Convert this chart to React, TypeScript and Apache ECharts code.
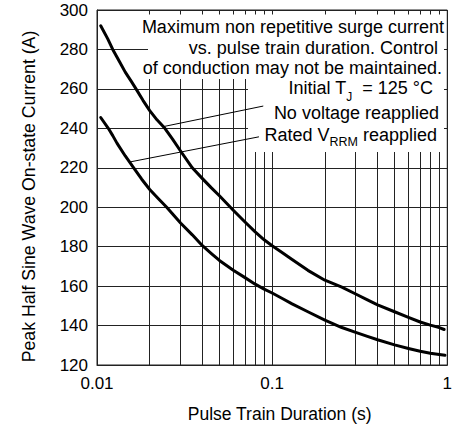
import React, { useEffect, useRef } from "react";
import * as echarts from "echarts";

// ---- data ----
const xTicks = [0.01, 0.1, 1];
const xTickLabels = ["0.01", "0.1", "1"];
const yMin = 120;
const yMax = 300;
const yStep = 20;
const minorGridX = [0.02, 0.03, 0.04, 0.05, 0.06, 0.07, 0.08, 0.09, 0.2, 0.3, 0.4, 0.5, 0.6, 0.7, 0.8, 0.9];

const noVoltageX = [0.0105, 0.0115, 0.0123, 0.0135, 0.0145, 0.0157, 0.0167, 0.0183, 0.02, 0.022, 0.0244, 0.027, 0.03, 0.035, 0.04, 0.045, 0.05, 0.06, 0.07, 0.08, 0.09, 0.1, 0.115, 0.13, 0.16, 0.2, 0.25, 0.3, 0.35, 0.4, 0.5, 0.6, 0.7, 0.8, 0.9, 0.96];
const noVoltageY = [292, 285.5, 280, 273.5, 268.5, 263.8, 260, 254.2, 249, 244.3, 240, 234.5, 228.5, 220, 214.5, 209.8, 205.8, 198.5, 192.5, 187.5, 183.5, 180.5, 176.8, 173.5, 168, 163, 159.5, 156, 153, 150.5, 147, 144.2, 141.8, 140.2, 139, 138];

const ratedX = [0.0105, 0.0116, 0.0123, 0.013, 0.0145, 0.0162, 0.018, 0.02, 0.0225, 0.025, 0.0275, 0.03, 0.035, 0.04, 0.045, 0.05, 0.06, 0.07, 0.08, 0.09, 0.1, 0.115, 0.13, 0.16, 0.2, 0.25, 0.3, 0.35, 0.4, 0.5, 0.6, 0.7, 0.8, 0.9, 0.97];
const ratedY = [245.5, 240, 236.3, 232.5, 226, 220, 214.2, 209, 204.2, 200, 195.8, 192, 186, 180.5, 176.5, 173, 168, 164.3, 161, 158.5, 156.5, 153.6, 151, 147, 142.8, 139, 136.5, 134.5, 132.8, 130.2, 128.4, 127, 126, 125.3, 124.9];

const leaderNoVoltage = [[0.0237, 240.8], [0.089, 251.3]];
const leaderRated = [[0.0155, 223.0], [0.0841, 235.7]];

const noteLines = [
  "Maximum non repetitive surge current",
  "vs. pulse train duration. Control",
  "of conduction may not be maintained.",
  "Initial T{sub|J}  = 125 °C",
  "No voltage reapplied",
  "Rated V{sub2|RRM} reapplied",
];

const xTitle = "Pulse Train Duration (s)";
const yTitle = "Peak Half Sine Wave On-state Current (A)";

const FONT = '"Liberation Sans", Arial, Helvetica, sans-serif';
const notePos = [
  [444, 27],
  [438, 48],
  [442, 67.5],
  [433, 88],
  [439, 113],
  [437, 135],
];

export default function App() {
  const ref = useRef<HTMLDivElement>(null);
  useEffect(() => {
    if (!ref.current) return;
    const chart = echarts.init(ref.current, undefined, { renderer: "svg" });
    const gridColor = "#222";
    const labelFor = (v: number) => {
      let best = 0;
      xTicks.forEach((t, i) => {
        if (Math.abs(Math.log10(t) - Math.log10(v)) < Math.abs(Math.log10(xTicks[best]) - Math.log10(v))) best = i;
      });
      return xTickLabels[best];
    };
    const markLineBase = {
      silent: true,
      symbol: ["none", "none"],
      label: { show: false },
      emphasis: { disabled: true },
    };
    chart.setOption({
      animation: false,
      backgroundColor: "#fff",
      textStyle: { fontFamily: FONT },
      grid: {
        left: 97,
        right: 6,
        top: 10,
        bottom: 64,
        show: true,
        borderColor: gridColor,
        borderWidth: 1,
        backgroundColor: "transparent",
        z: 0,
      },
      xAxis: {
        type: "log",
        logBase: 10,
        min: xTicks[0],
        max: xTicks[xTicks.length - 1],
        z: 0,
        axisLine: { show: true, lineStyle: { color: gridColor, width: 1 } },
        axisTick: { show: false },
        splitLine: { show: true, lineStyle: { color: gridColor, width: 1 } },
        axisLabel: {
          color: "#000",
          fontSize: 17,
          fontFamily: FONT,
          margin: 10,
          formatter: (v: number) => labelFor(v),
        },
        name: xTitle,
        nameLocation: "middle",
        nameGap: 40,
        nameTextStyle: { color: "#000", fontSize: 17.5, fontFamily: FONT, padding: [0, 0, 0, 15] },
      },
      yAxis: {
        type: "value",
        min: yMin,
        max: yMax,
        interval: yStep,
        z: 0,
        axisLine: { show: true, lineStyle: { color: gridColor, width: 1 } },
        axisTick: { show: false },
        splitLine: { show: true, lineStyle: { color: gridColor, width: 1 } },
        axisLabel: { color: "#000", fontSize: 17, fontFamily: FONT, margin: 9 },
      },
      graphic: [
        {
          type: "rect",
          z: 1,
          silent: true,
          shape: { x: 148, y: 14.5, width: 296, height: 64.5 },
          style: { fill: "#fff" },
        },
        {
          type: "rect",
          z: 1,
          silent: true,
          shape: { x: 248, y: 79, width: 196, height: 73 },
          style: { fill: "#fff" },
        },
        {
          type: "text",
          z: 6,
          silent: true,
          x: 29,
          y: 196.5,
          rotation: Math.PI / 2,
          style: {
            text: yTitle,
            align: "center",
            verticalAlign: "middle",
            fontSize: 17.7,
            fontFamily: FONT,
            fill: "#000",
          },
        },
        ...noteLines.map((t, i) => ({
          type: "text",
          z: 6,
          silent: true,
          x: notePos[i][0],
          y: notePos[i][1],
          style: {
            text: t,
            align: "right",
            verticalAlign: "middle",
            fontSize: 18,
            fontFamily: FONT,
            fill: "#000",
            rich: {
              sub: { fontSize: 12, lineHeight: 30, verticalAlign: "bottom", fontFamily: FONT, fill: "#000" },
              sub2: { fontSize: 12.5, lineHeight: 27, verticalAlign: "bottom", fontFamily: FONT, fill: "#000" },
            },
          },
        })),
      ],
      series: [
        {
          type: "line",
          name: "grid",
          z: 0,
          silent: true,
          showSymbol: false,
          data: [[0.5, 200]],
          lineStyle: { opacity: 0 },
          markLine: {
            ...markLineBase,
            z: 0,
            lineStyle: { color: gridColor, width: 1, type: "solid" },
            data: minorGridX.map((v) => ({ xAxis: v })),
          },
        },
        {
          type: "line",
          name: "No voltage reapplied",
          z: 3,
          showSymbol: false,
          smooth: false,
          data: noVoltageX.map((x, i) => [x, noVoltageY[i]]),
          lineStyle: { color: "#000", width: 3, join: "round", cap: "round" },
          markLine: {
            ...markLineBase,
            z: 5,
            lineStyle: { color: "#000", width: 1, type: "solid" },
            data: [[{ coord: leaderNoVoltage[0] }, { coord: leaderNoVoltage[1] }]],
          },
        },
        {
          type: "line",
          name: "Rated VRRM reapplied",
          z: 3,
          showSymbol: false,
          smooth: false,
          data: ratedX.map((x, i) => [x, ratedY[i]]),
          lineStyle: { color: "#000", width: 3, join: "round", cap: "round" },
          markLine: {
            ...markLineBase,
            z: 5,
            lineStyle: { color: "#000", width: 1, type: "solid" },
            data: [[{ coord: leaderRated[0] }, { coord: leaderRated[1] }]],
          },
        },
      ],
    });
    return () => chart.dispose();
  }, []);
  return (
    <div
      ref={ref}
      style={{ position: "fixed", left: 0, top: 0, width: 455, height: 429, background: "#fff" }}
    />
  );
}
